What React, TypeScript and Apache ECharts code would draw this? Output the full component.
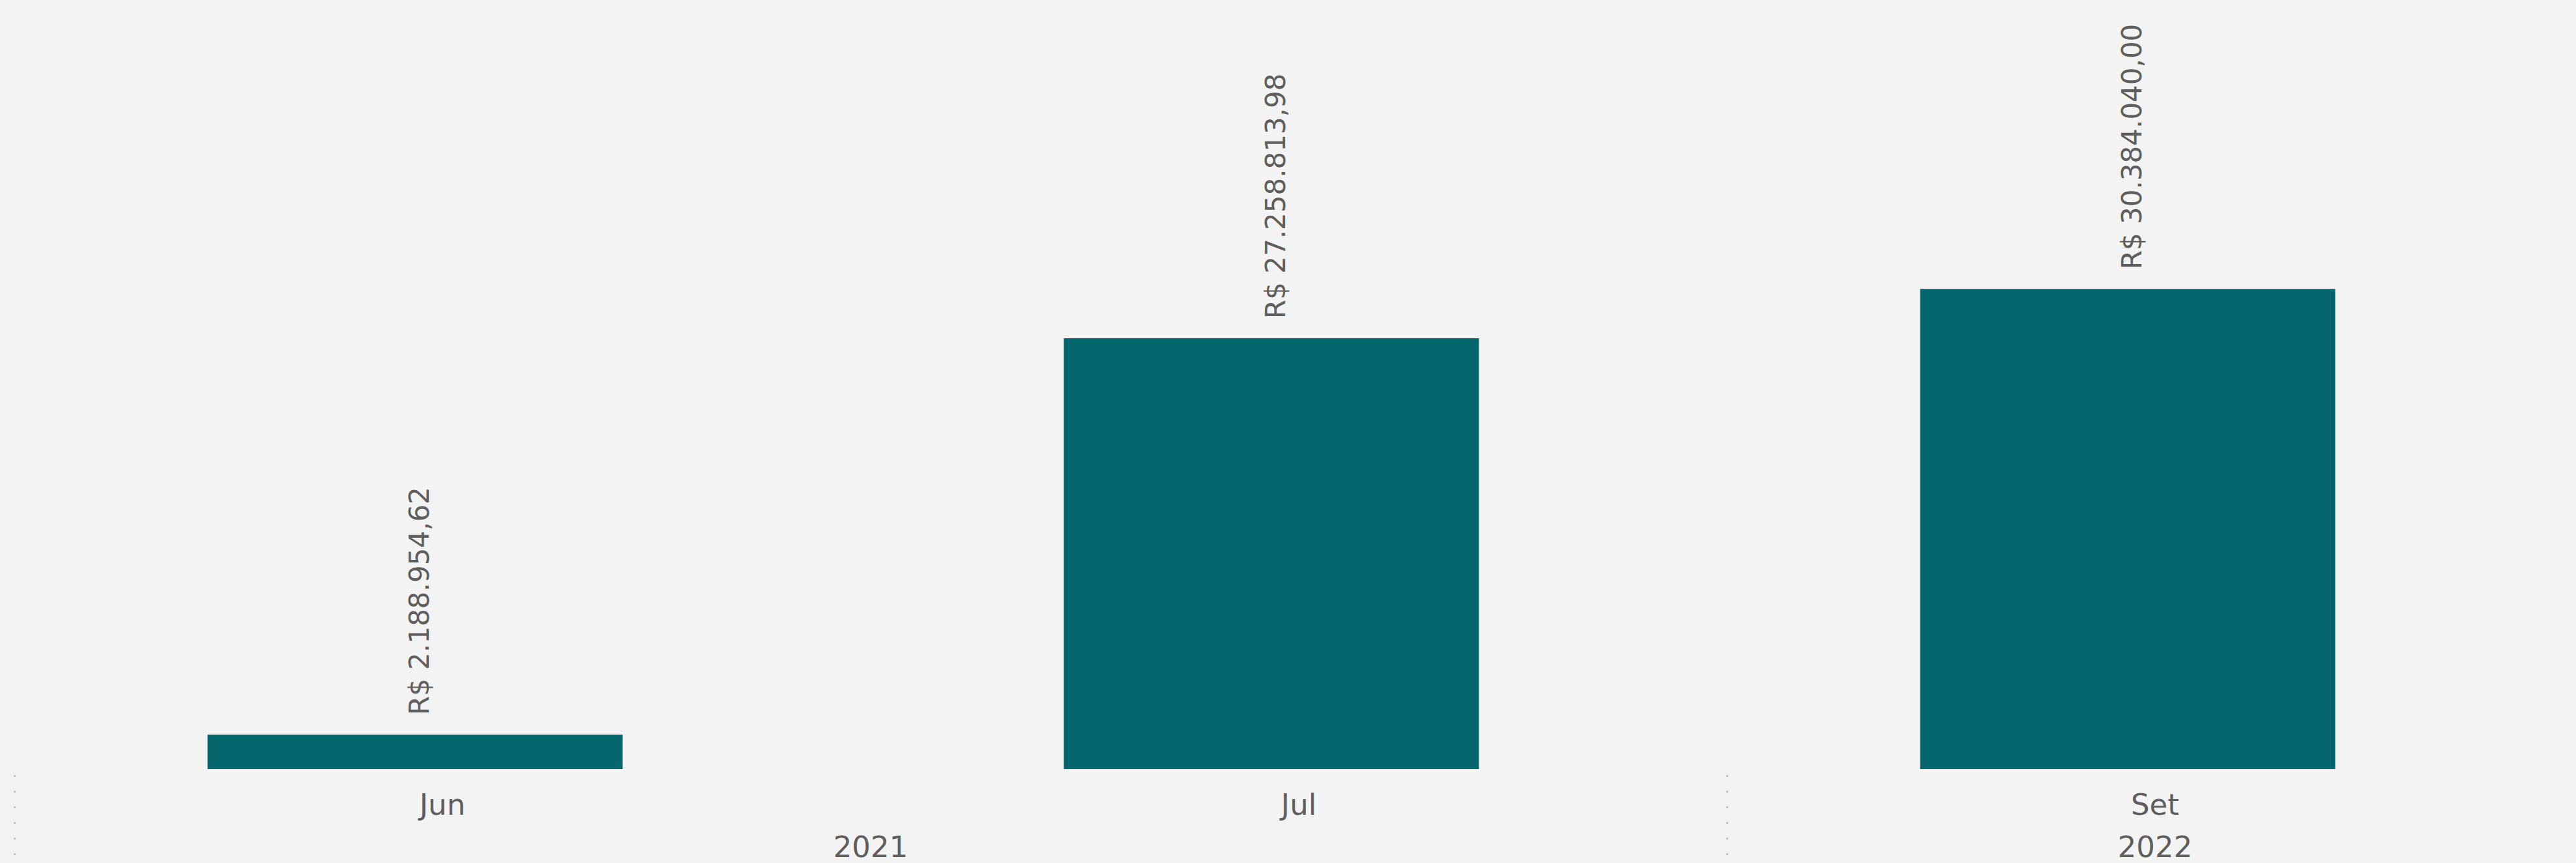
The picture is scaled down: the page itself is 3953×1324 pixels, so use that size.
import React, { useEffect, useRef } from "react";
import * as echarts from "echarts";

const months = ["Jun", "Jul", "Set"];
const values = [2188954.62, 27258813.98, 30384040.0];
const yearLabels = ["2021", "2022"];
const yearStarts = [0, 2];
const yearEnds = [2, 3];

const fmtBRL = (v: number) => {
  const fixed = v.toFixed(2);
  const [intPart, dec] = fixed.split(".");
  const withDots = intPart.replace(/\B(?=(\d{3})+(?!\d))/g, ".");
  return "R$ " + withDots + "," + dec;
};

const FONT = "'DejaVu Sans', 'Noto Sans', sans-serif";
const TEXT = "#605E5C";
const SHIFT = 100; // chart div starts this far left of the page

export default function App() {
  const ref = useRef<HTMLDivElement>(null);
  useEffect(() => {
    document.body.style.margin = "0";
    document.body.style.overflow = "hidden";
    document.body.style.background = "#F3F3F3";
    const chart = echarts.init(ref.current!, null, { renderer: "svg" });
    const yearCenters = yearLabels.map((_, i) => (yearStarts[i] + yearEnds[i]) / 2);
    chart.setOption({
      animation: false,
      backgroundColor: "#F3F3F3",
      grid: [
        { left: SHIFT - 20, width: 3942, top: 210, bottom: 144 },
        { left: SHIFT + 22, width: 3942, top: 210, bottom: 135 },
      ],
      xAxis: [
        {
          type: "category",
          gridIndex: 0,
          data: months,
          axisLine: { show: false },
          axisTick: { show: false },
          axisLabel: { show: false },
        },
        {
          type: "category",
          gridIndex: 1,
          data: months,
          axisLine: { show: false },
          axisTick: { show: false },
          axisLabel: {
            margin: 23,
            color: TEXT,
            fontFamily: FONT,
            fontSize: 45,
            lineHeight: 45,
          },
        },
        {
          type: "value",
          gridIndex: 1,
          min: 0,
          max: 3,
          position: "bottom",
          axisLine: { show: false },
          splitLine: { show: false },
          axisTick: {
            show: true,
            customValues: yearStarts,
            length: 135,
            lineStyle: { color: "#C4C4C4", width: 3, type: [3, 21] },
          },
          axisLabel: {
            customValues: yearCenters,
            margin: 95,
            color: TEXT,
            fontFamily: FONT,
            fontSize: 45,
            lineHeight: 30,
            formatter: (v: number) => {
              const i = yearCenters.findIndex((c) => Math.abs(c - v) < 1e-6);
              return i >= 0 ? yearLabels[i] : "";
            },
          },
        },
      ],
      yAxis: [
        { type: "value", gridIndex: 0, min: 0, max: 40000000, show: false },
        { type: "value", gridIndex: 1, show: false },
      ],
      series: [
        {
          type: "bar",
          xAxisIndex: 0,
          yAxisIndex: 0,
          data: values,
          barWidth: 637,
          itemStyle: { color: "#05666E" },
          label: {
            show: true,
            position: "top",
            rotate: 90,
            align: "left",
            verticalAlign: "middle",
            distance: 30,
            offset: [0, 6],
            color: TEXT,
            fontFamily: FONT,
            fontSize: 42,
            formatter: (p: any) => fmtBRL(p.value),
          },
        },
      ],
    });
    return () => chart.dispose();
  }, []);
  return (
    <div
      ref={ref}
      style={{
        position: "fixed",
        left: -SHIFT + "px",
        top: 0,
        width: 3953 + 2 * SHIFT + "px",
        height: "1324px",
      }}
    />
  );
}
